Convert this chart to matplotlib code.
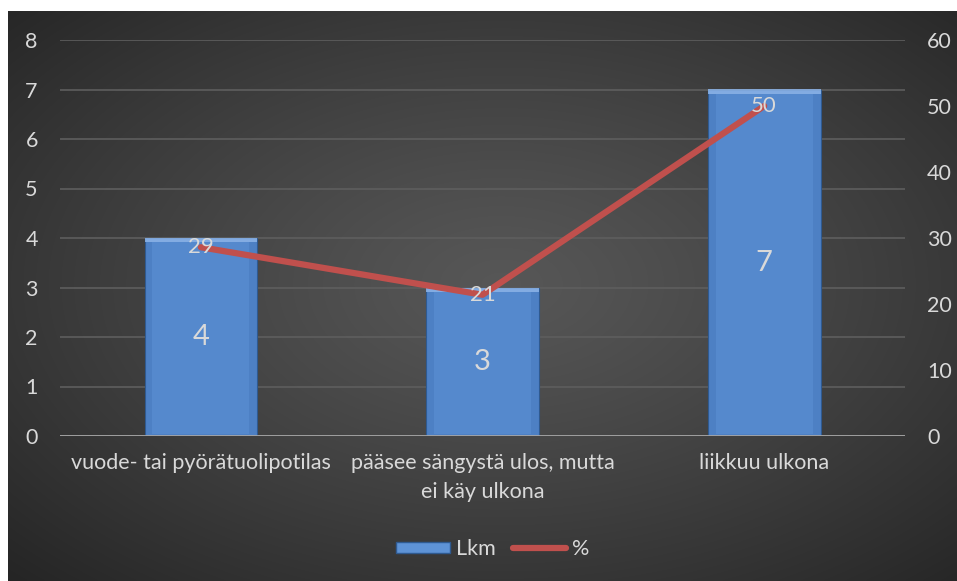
import numpy as np
import matplotlib
matplotlib.use("Agg")
import matplotlib.pyplot as plt
from matplotlib.patches import Rectangle
from matplotlib.lines import Line2D

categories = ["vuode- tai pyörätuolipotilas", "pääsee sängystä ulos, mutta\nei käy ulkona", "liikkuu ulkona"]
lkm = [4, 3, 7]
pct = [28.6, 21.4, 50.0]
left_ticks = [0, 1, 2, 3, 4, 5, 6, 7, 8]
right_ticks = [0, 10, 20, 30, 40, 50, 60]

plt.rcParams['font.family'] = ['Lato', 'DejaVu Sans']
txt = '#d9d9d9'
fs = 15.5

fig = plt.figure(figsize=(9.57, 5.81), dpi=100)
fig.patch.set_facecolor('white')

# background gradient
bg = fig.add_axes([8/957, 0, 1 - 8/957, 1 - 11/581])
bg.set_axis_off()
yy, xx = np.mgrid[0:1:300j, 0:1:500j]
r = np.sqrt(((xx - 0.52) / 0.75) ** 2 + ((yy - 0.48) / 0.75) ** 2)
val = 0.34 - 0.20 * np.clip(r, 0, 1) ** 1.2
img = np.dstack([val, val, val])
bg.imshow(img, aspect='auto', extent=[0, 1, 0, 1], interpolation='bilinear')
bg.set_xlim(0, 1); bg.set_ylim(0, 1)

ax = fig.add_axes([60/957, 1 - 436/581, 845/957, 396/581])
ax.patch.set_alpha(0)
x = np.arange(len(categories))
bars = ax.bar(x, lkm, width=0.40, color='#4d80c4', edgecolor='#2f5a90', linewidth=0.8, zorder=3)
# bevel highlights
for b in bars:
    bx, bw, bh = b.get_x(), b.get_width(), b.get_height()
    ax.add_patch(Rectangle((bx, bh - 0.09), bw, 0.09, color='#8db4e8', alpha=0.85, zorder=4, linewidth=0))
    ax.add_patch(Rectangle((bx + bw * 0.07, 0.05), bw * 0.86, bh - 0.14, color='#5e93d6', alpha=0.5, zorder=4, linewidth=0))
    ax.text(b.get_x() + bw / 2, bh / 2, f"{int(bh)}", ha='center', va='center',
            color=txt, fontsize=21, zorder=6)

ax.set_xlim(-0.5, 2.5)
ax.set_ylim(0, 8)
ax.set_yticks(left_ticks)
ax.set_xticks(x)
ax.set_xticklabels(categories, color=txt, fontsize=fs, linespacing=1.6)
ax.tick_params(axis='x', length=0, pad=12)
ax.tick_params(axis='y', length=0, pad=16, labelcolor=txt, labelsize=fs)
for s in ax.spines.values():
    s.set_visible(False)
ax.grid(axis='y', color='#5e5e5e', linewidth=1.2, zorder=0)
ax.axhline(0, color='#a6a6a6', linewidth=2, zorder=5)

ax2 = ax.twinx()
ax2.set_ylim(0, 60)
ax2.set_yticks(right_ticks)
ax2.tick_params(axis='y', length=0, pad=16, labelcolor=txt, labelsize=fs)
for s in ax2.spines.values():
    s.set_visible(False)
ax2.plot(x, pct, color='#c0504d', linewidth=4.5, solid_capstyle='round', zorder=5)
for xi, p in zip(x, pct):
    ax2.text(xi, p, f"{p:.0f}", ha='center', va='center', color=txt, fontsize=16, zorder=6)

handles = [Rectangle((0, 0), 1, 1, facecolor='#5e93d6', edgecolor='#2f5a90'),
           Line2D([0], [0], color='#c0504d', linewidth=4.5, solid_capstyle='round')]
leg = fig.legend(handles, ["Lkm", "%"], loc='center', bbox_to_anchor=(0.515, 1 - 549/581),
                 ncol=2, frameon=False, fontsize=fs, labelcolor=txt,
                 handlelength=2.5, handletextpad=0.25, columnspacing=0.8, handleheight=0.45)

fig.savefig("out.png", dpi=100)
